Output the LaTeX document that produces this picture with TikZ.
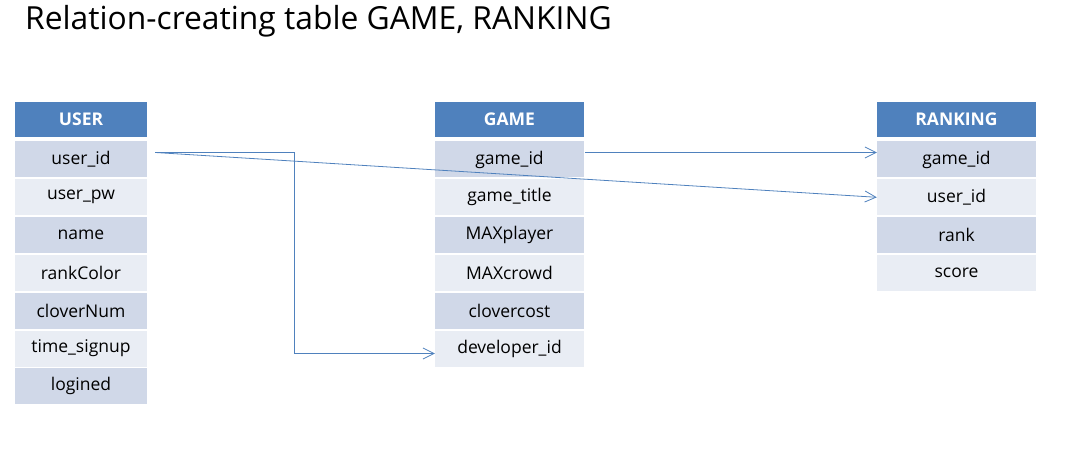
\documentclass[tikz,border=0pt]{standalone}
\usepackage{fontspec}
\setmainfont{Open Sans}
\usetikzlibrary{arrows.meta}
\definecolor{hdblue}{HTML}{4F81BD}
\definecolor{row1}{HTML}{D0D8E8}
\definecolor{row0}{HTML}{E9EDF4}
\tikzset{
  hdcell/.style={fill=hdblue, text=white, inner sep=0pt, minimum height=35pt,
    font=\fontsize{17.5}{20}\selectfont\bfseries},
  fieldcell/.style={inner sep=0pt, minimum height=36pt,
    font=\fontsize{17.5}{20}\selectfont},
  link/.style={draw=hdblue, line width=0.8pt, -{Straight Barb[length=11pt,width=11pt]}}
}
\begin{document}
\begin{tikzpicture}[x=1pt, y=-1pt]
  \useasboundingbox (0,0) rectangle (1082,476);

  %%%%% title %%%%%
  \node[anchor=base west, inner sep=0pt, font=\fontsize{31.8}{36}\selectfont] (title) at (25,30) {Relation-creating table GAME, RANKING};

  %%%%% USER %%%%%
  \node[hdcell, minimum width=132pt] (user) at (81,119.5) {USER};
  \foreach \f [count=\i, evaluate=\i as \c using {int(mod(\i,2))}] in
      {user\_id, user\_pw, name, rankColor, cloverNum, time\_signup, logined}
    \node[fieldcell, fill=row\c, minimum width=132pt] (u\i) at (81,{159.5+(\i-1)*37.8}) {\f};

  %%%%% GAME %%%%%
  \node[hdcell, minimum width=149pt] (game) at (509.5,119.5) {GAME};
  \foreach \f [count=\i, evaluate=\i as \c using {int(mod(\i,2))}] in
      {game\_id, game\_title, MAXplayer, MAXcrowd, clovercost, developer\_id}
    \node[fieldcell, fill=row\c, minimum width=149pt] (g\i) at (509.5,{159.5+(\i-1)*37.8}) {\f};

  %%%%% RANKING %%%%%
  \node[hdcell, minimum width=159pt] (ranking) at (956.5,119.5) {RANKING};
  \foreach \f [count=\i, evaluate=\i as \c using {int(mod(\i,2))}] in
      {game\_id, user\_id, rank, score}
    \node[fieldcell, fill=row\c, minimum width=159pt] (r\i) at (956.5,{159.5+(\i-1)*37.8}) {\f};

  %%%%% links %%%%%
  \draw[link] ([xshift=8pt,yshift=7pt]u1.east) -- ++(139,0) |- ([yshift=-5pt]g6.west);
  \draw[link] ([xshift=8pt,yshift=7pt]u1.east) -- (r2.west);
  \draw[link] ([xshift=1pt,yshift=7pt]g1.east) -- ([yshift=7pt]r1.west);
\end{tikzpicture}
\end{document}
